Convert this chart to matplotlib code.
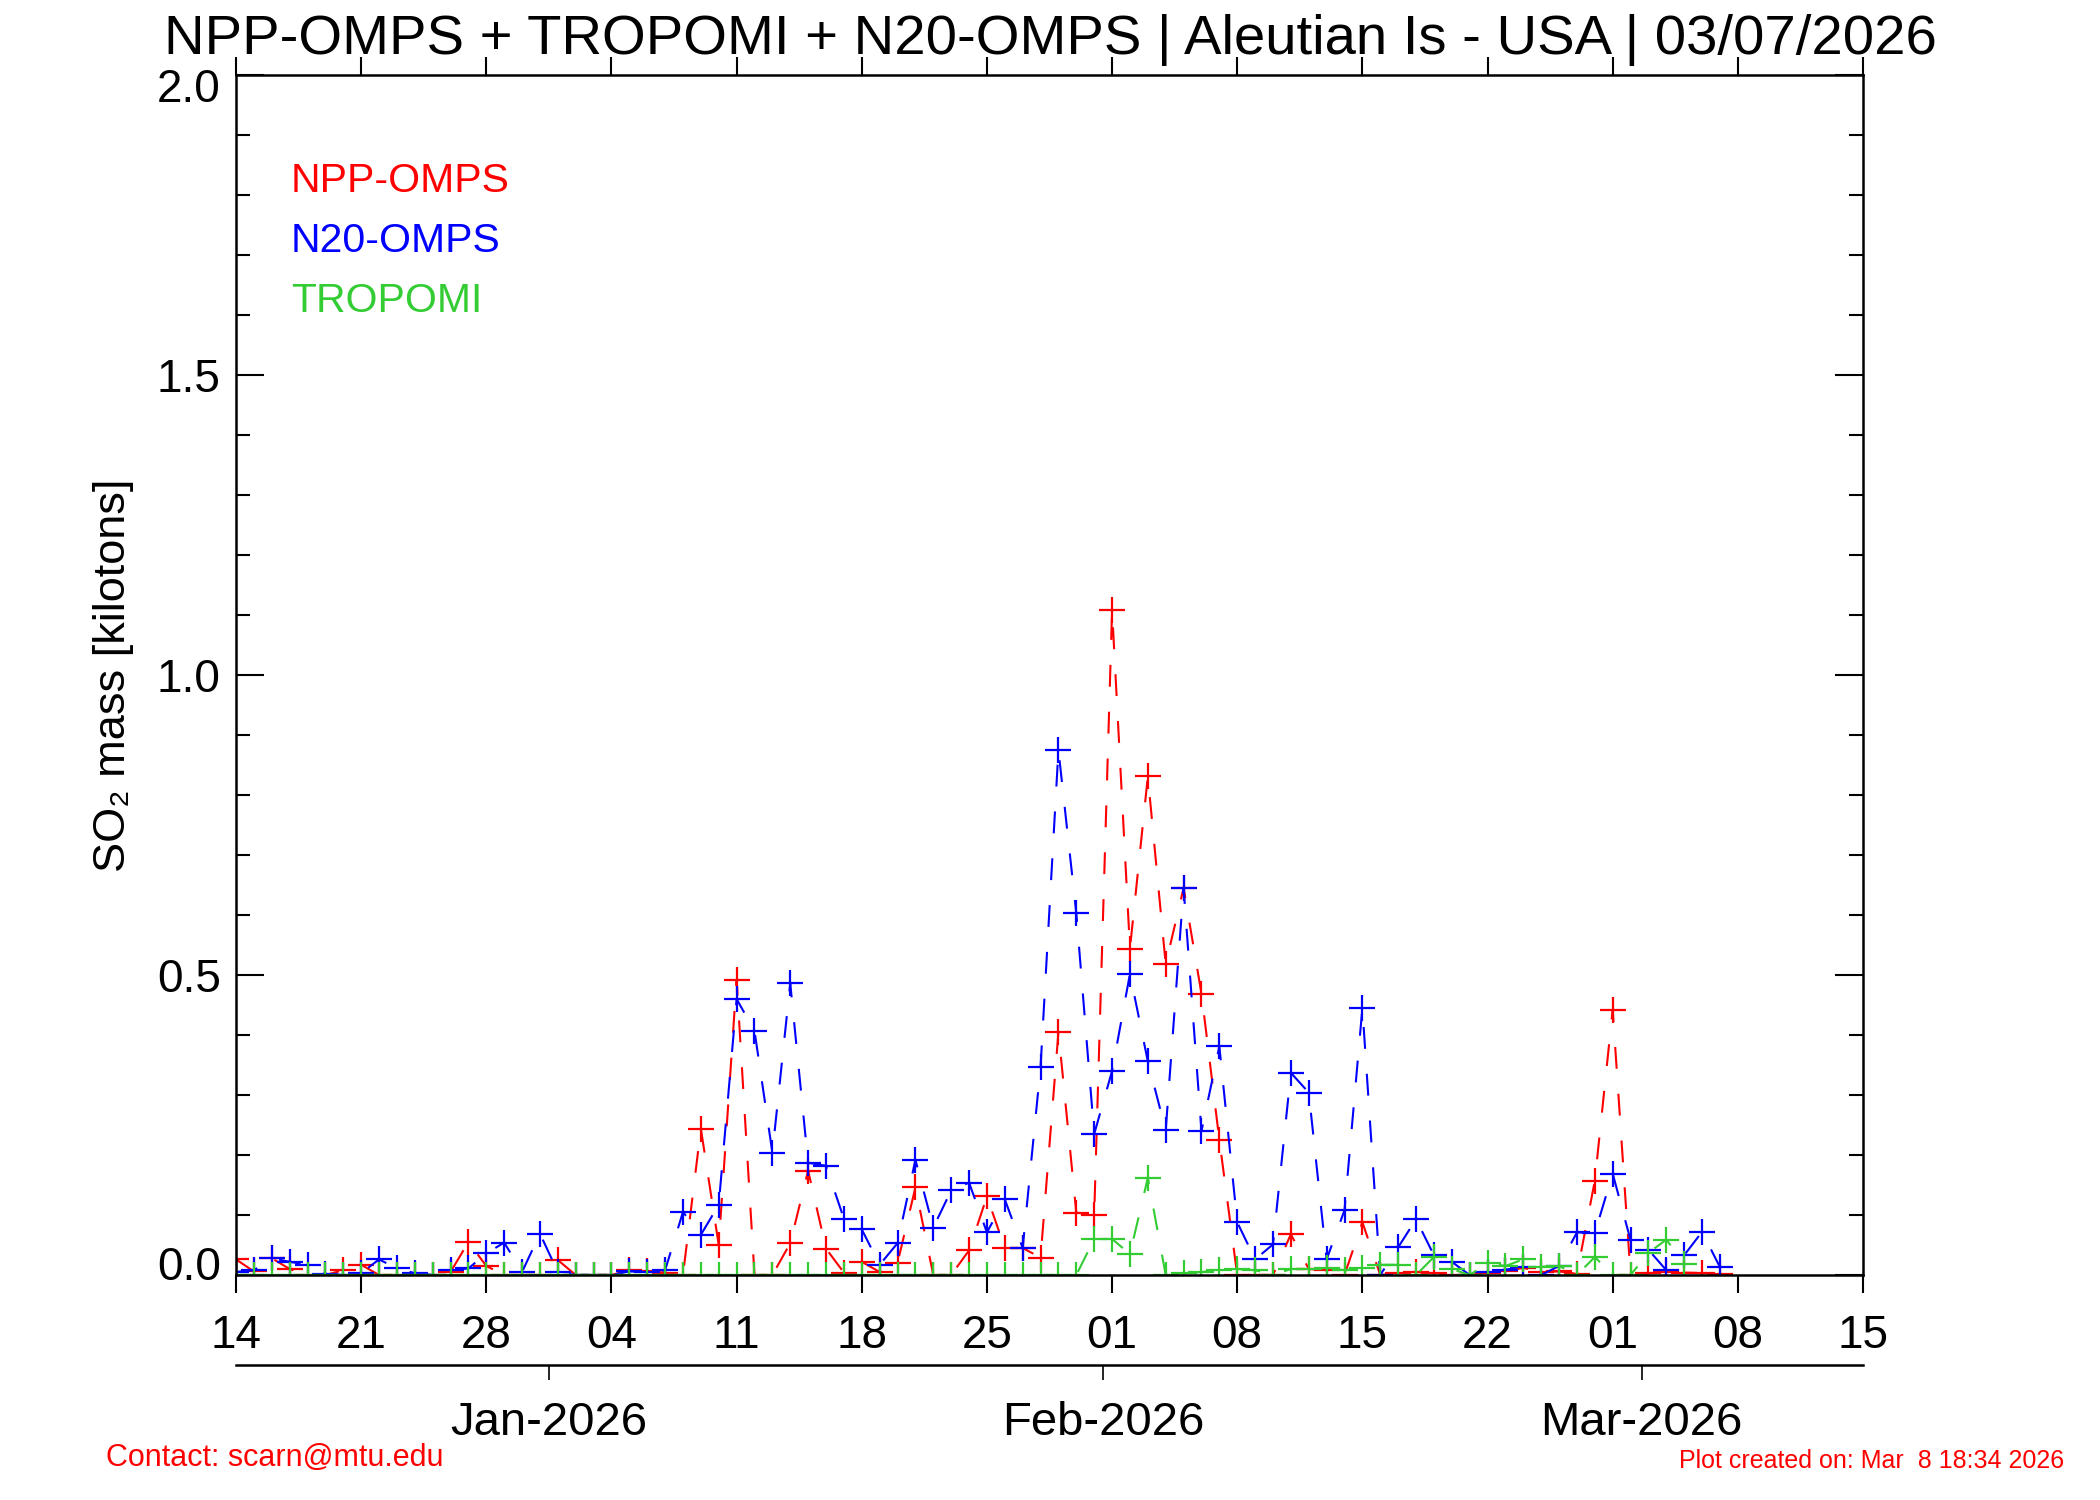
import matplotlib
matplotlib.use('Agg')
import matplotlib.pyplot as plt
import matplotlib.dates as mdates
import matplotlib.transforms as mtransforms
import pandas as pd

plt.rcParams['font.family'] = ['Liberation Sans', 'DejaVu Sans']

# daily SO2 mass [kt], starting 14 Dec 2025
start = '2025-12-14'
npp_omps = [0.026, 0.006, 0.028, 0.010, 0.0, 0.0, 0.008, 0.017, 0.0, 0.0,
            0.0, 0.0, 0.005, 0.055, 0.015, 0.0, 0.0, 0.0, 0.025, 0.0,
            0.0, 0.0, 0.008, 0.006, 0.004, 0.0, 0.244, 0.050, 0.492, 0.0,
            0.0, 0.053, 0.174, 0.044, 0.004, 0.022, 0.005, 0.020, 0.146, 0.0,
            0.0, 0.041, 0.131, 0.045, 0.045, 0.029, 0.405, 0.104, 0.100, 1.108,
            0.544, 0.831, 0.518, 0.645, 0.469, 0.225, 0.0, 0.0, 0.0, 0.068,
            0.010, 0.008, 0.0, 0.088, 0.0, 0.003, 0.005, 0.003, 0.0, 0.0,
            0.004, 0.006, 0.012, 0.005, 0.006, 0.002, 0.157, 0.442, 0.0, 0.003,
            0.005, 0.004, 0.003, 0.002]
n20_omps = [0.005, 0.008, 0.028, 0.022, 0.017, 0.002, 0.0, 0.003, 0.026, 0.011,
            0.003, 0.0, 0.008, 0.011, 0.036, 0.054, 0.005, 0.069, 0.005, 0.0,
            0.0, 0.0, 0.006, 0.005, 0.008, 0.105, 0.067, 0.117, 0.460, 0.407,
            0.204, 0.486, 0.187, 0.182, 0.094, 0.076, 0.017, 0.053, 0.192, 0.079,
            0.141, 0.154, 0.071, 0.126, 0.045, 0.347, 0.875, 0.603, 0.235, 0.340,
            0.502, 0.356, 0.241, 0.645, 0.240, 0.381, 0.088, 0.026, 0.051, 0.337,
            0.304, 0.026, 0.108, 0.445, 0.0, 0.046, 0.093, 0.033, 0.022, 0.0,
            0.005, 0.009, 0.013, 0.0, 0.015, 0.071, 0.070, 0.169, 0.058, 0.042,
            0.008, 0.033, 0.072, 0.013]
tropomi = [0.0] * 48 + [0.060, 0.060, 0.035, 0.162, 0.0, 0.003, 0.005, 0.008,
           0.010, 0.008, 0.0, 0.010, 0.010, 0.012, 0.008, 0.012, 0.017, 0.017,
           0.0, 0.030, 0.010, 0.0, 0.020, 0.015, 0.026, 0.014, 0.015, 0.0,
           0.030, 0.0, 0.0, 0.037, 0.059, 0.019]

x_ticks = pd.date_range('2025-12-14', '2026-03-15', freq='7D')
month_ticks = pd.to_datetime(['2025-12-31 12:00', '2026-01-31 12:00', '2026-03-02 15:00'])
month_labels = ['Jan-2026', 'Feb-2026', 'Mar-2026']
y_ticks = [0.0, 0.5, 1.0, 1.5, 2.0]

series = [('NPP-OMPS', npp_omps, '#ff0000'),
          ('N20-OMPS', n20_omps, '#0000ff'),
          ('TROPOMI', tropomi, '#33cc33')]

fig = plt.figure(figsize=(21, 15), dpi=100)
ax = fig.add_axes([236 / 2100, 0.15, 1627 / 2100, 0.80])

dash = (0, (10.5, 12))
for name, vals, col in series:
    d = pd.date_range(start, periods=len(vals), freq='D')
    ax.plot(d, vals, color=col, linestyle=dash, linewidth=1.5,
            marker='+', markersize=19, markeredgewidth=1.6)

ax.set_xlim(pd.Timestamp('2025-12-14'), pd.Timestamp('2026-03-15'))
ax.set_ylim(0, 2.0)
ax.set_xticks(x_ticks)
ax.xaxis.set_major_formatter(mdates.DateFormatter('%d'))
ax.set_yticks(y_ticks)
ax.set_yticklabels(['%.1f' % v for v in y_ticks])
ax.set_yticks([v / 10 for v in range(21)], minor=True)
ax.tick_params(axis='x', which='major', direction='out', top=True, bottom=True,
               length=13, width=1.5, labelsize=33, pad=15)
ax.tick_params(axis='y', which='major', direction='in', left=True, right=True,
               length=20, width=1.5, labelsize=33, pad=11)
ax.tick_params(axis='y', which='minor', direction='in', left=True, right=True,
               length=10, width=1.5)
for s in ax.spines.values():
    s.set_linewidth(1.8)

ylab = ax.get_yticklabels()
ylab[0].set_transform(ylab[0].get_transform() +
                      mtransforms.ScaledTranslation(0, 0.12, fig.dpi_scale_trans))
ylab[-1].set_transform(ylab[-1].get_transform() +
                       mtransforms.ScaledTranslation(0, -0.10, fig.dpi_scale_trans))

# month axis below
ax2 = fig.add_axes([236 / 2100, 0.09, 1627 / 2100, 0.0001])
ax2.set_xlim(ax.get_xlim())
ax2.set_yticks([])
for k in ('top', 'left', 'right'):
    ax2.spines[k].set_visible(False)
ax2.spines['bottom'].set_linewidth(1.8)
ax2.set_xticks(mdates.date2num(month_ticks))
ax2.set_xticklabels(month_labels)
ax2.tick_params(axis='x', direction='out', length=11, width=1.2, labelsize=34, pad=15)

fig.text(0.5, 1 - 54 / 1500, 'NPP-OMPS + TROPOMI + N20-OMPS | Aleutian Is - USA | 03/07/2026',
         ha='center', va='baseline', fontsize=40.5)
fig.text(114 / 2100, 0.55, 'SO\u2082 mass [kilotons]', rotation=90,
         ha='center', va='center', fontsize=32.5)

for i, (name, vals, col) in enumerate(series):
    fig.text(291 / 2100, 1 - (181 + 60 * i) / 1500, name, color=col,
             ha='left', va='center', fontsize=29.5)

fig.text(106 / 2100, 1 - 1458 / 1500, 'Contact: scarn@mtu.edu', color='#ff0000',
         ha='left', va='center', fontsize=22)
fig.text(2064 / 2100, 1 - 1461 / 1500, 'Plot created on: Mar  8 18:34 2026', color='#ff0000',
         ha='right', va='center', fontsize=18)

fig.savefig('out.png', dpi=100)
